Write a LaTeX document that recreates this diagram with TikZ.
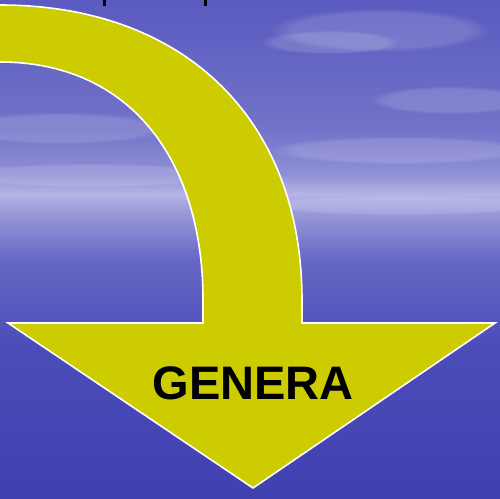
\documentclass[tikz,border=0pt]{standalone}
\usepackage{fontspec}
\newfontfamily\arialfont{Liberation Sans}
\usetikzlibrary{positioning,fadings}
\definecolor{arrowyellow}{RGB}{205,204,0}
\definecolor{skytop}{RGB}{90,90,192}
\definecolor{skyhaze}{RGB}{180,180,228}
\definecolor{seabottom}{RGB}{64,64,178}
% stops between 25bp (bottom of picture) and 75bp (top of picture)
\pgfdeclareverticalshading{skysea}{100bp}{%
  color(0bp)=(seabottom);
  color(25bp)=(seabottom);
  color(40bp)=(seabottom!55!skytop);
  color(49bp)=(skytop!92!white);
  color(54bp)=(skyhaze!75!skytop);
  color(55.5bp)=(skyhaze);
  color(57.5bp)=(skyhaze!60!skytop);
  color(62bp)=(skytop!85!white);
  color(75bp)=(skytop);
  color(100bp)=(skytop)}
\tikzset{
  cloud/.style={fill=white, opacity=0.14, path fading=circle with fuzzy edge 20 percent},
  bigarrow/.style={fill=arrowyellow, draw=white, line width=1.6pt, line join=miter},
}
\begin{document}
\begin{tikzpicture}[
  x=1pt, y=-1pt,
  lbl/.style={font=\arialfont\bfseries\fontsize{47}{50}\selectfont, text=black, inner sep=0pt},
]
 \useasboundingbox (0,0) rectangle (500,498);
 \clip (0,0) rectangle (500,498);

 % Sky and sea
 \shade[shading=skysea] (0,0) rectangle (500,498);
 \foreach \cx/\cy/\rx/\ry in {380/30/110/22, 330/42/70/12, 450/100/80/14, 60/128/110/16,
                              400/150/130/14, 90/175/140/12, 400/205/140/10}
   \fill[cloud] (\cx,\cy) ellipse [x radius=\rx, y radius=\ry];

 % Text cut off at the top
 \fill[black] (103,0) rectangle (106,6);
 \fill[black] (204,0) rectangle (207,6);

 % Curved arrow
 \draw[bigarrow]
   (-10,5) -- (0,5) .. controls (185,5) and (302,120) .. (302,300)
   -- (302,323) -- (495,323) -- (253,488) -- (8,323) -- (203,323)
   -- (203,300) .. controls (203,160) and (130,62) .. (0,62) -- (-10,62);

 \node[lbl] (genera) at (253,383) {GENERA};
\end{tikzpicture}
\end{document}
